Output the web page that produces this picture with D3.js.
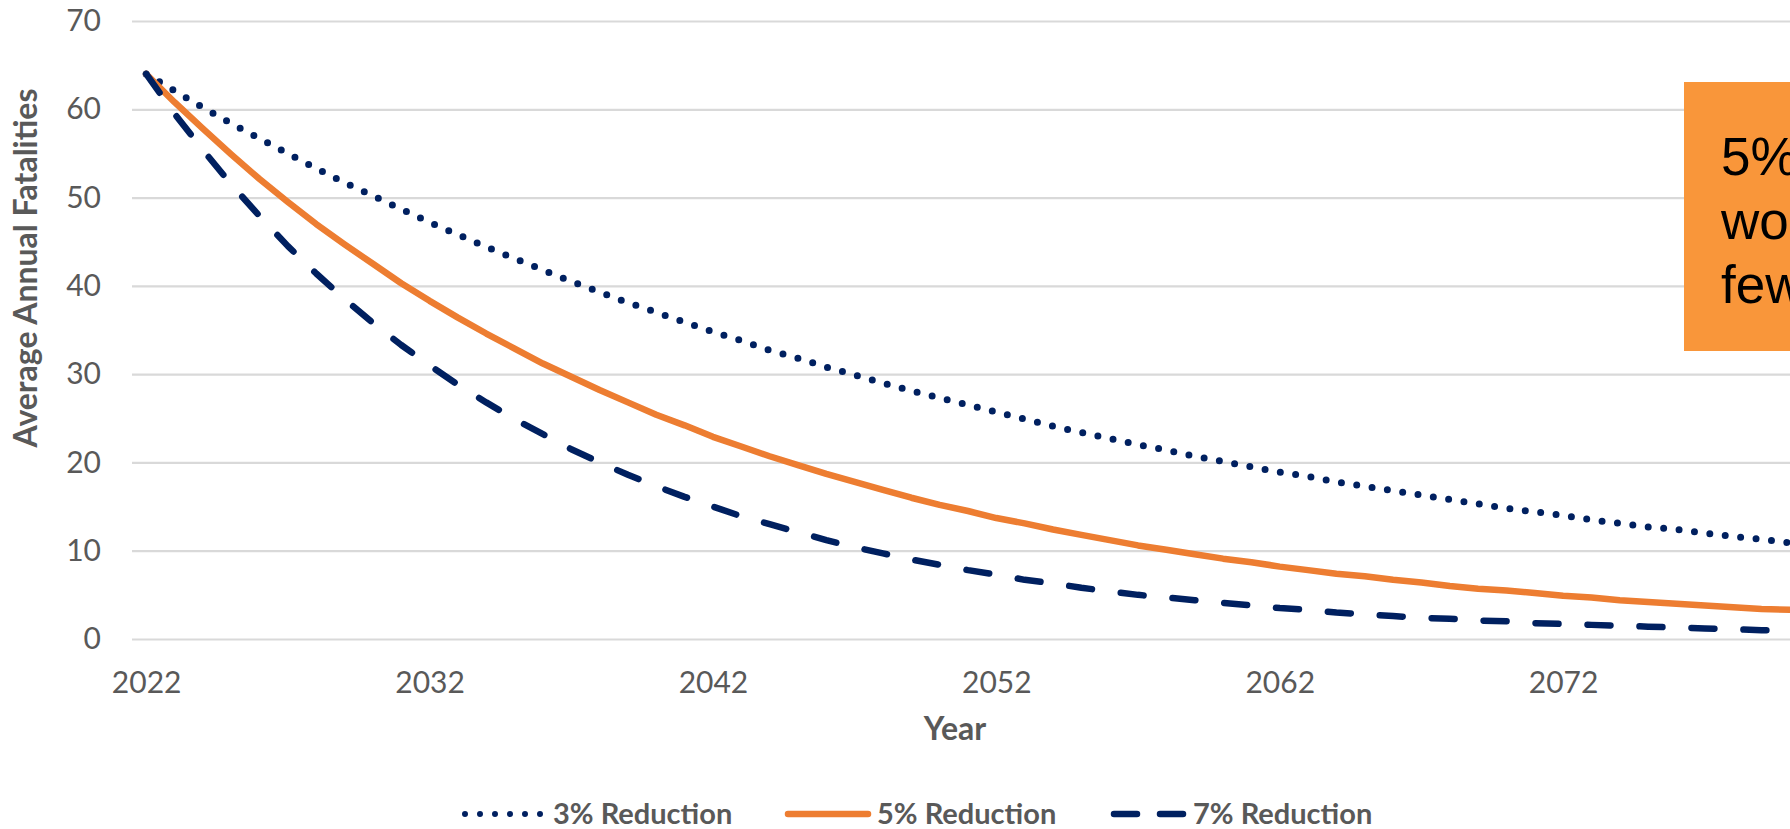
<!DOCTYPE html>
<html>
<head>
<meta charset="utf-8">
<script src="https://cdn.jsdelivr.net/npm/d3@7"></script>
<style>
  html, body { margin: 0; padding: 0; background: #ffffff; overflow: hidden; }
  svg { display: block; }
</style>
</head>
<body>
<svg id="chart" width="1790" height="829"></svg>
<script>
// Projected average annual fatalities, 2022–2080, under three yearly reduction rates
const years = d3.range(2022, 2081);

const reduction3 = [
  64.0, 62.1, 60.2, 58.4, 56.7, 55.0, 53.3, 51.7, 50.2, 48.7,
  47.2, 45.8, 44.4, 43.1, 41.8, 40.5, 39.3, 38.1, 37.0, 35.9,
  34.8, 33.8, 32.7, 31.8, 30.8, 29.9, 29.0, 28.1, 27.3, 26.5,
  25.7, 24.9, 24.1, 23.4, 22.7, 22.0, 21.4, 20.7, 20.1, 19.5,
  18.9, 18.4, 17.8, 17.3, 16.8, 16.3, 15.8, 15.3, 14.8, 14.4,
  14.0, 13.5, 13.1, 12.7, 12.4, 12.0, 11.6, 11.3, 10.9
];

const reduction5 = [
  64.0, 60.8, 57.8, 54.9, 52.1, 49.5, 47.0, 44.7, 42.5, 40.3,
  38.3, 36.4, 34.6, 32.9, 31.2, 29.7, 28.2, 26.8, 25.4, 24.2,
  22.9, 21.8, 20.7, 19.7, 18.7, 17.8, 16.9, 16.0, 15.2, 14.5,
  13.7, 13.1, 12.4, 11.8, 11.2, 10.6, 10.1, 9.6, 9.1, 8.7,
  8.2, 7.8, 7.4, 7.1, 6.7, 6.4, 6.0, 5.7, 5.5, 5.2,
  4.9, 4.7, 4.4, 4.2, 4.0, 3.8, 3.6, 3.4, 3.3
];

const reduction7 = [
  64.0, 59.5, 55.4, 51.5, 47.9, 44.5, 41.4, 38.5, 35.8, 33.3,
  31.0, 28.8, 26.8, 24.9, 23.2, 21.5, 20.0, 18.6, 17.3, 16.1,
  15.0, 13.9, 13.0, 12.1, 11.2, 10.4, 9.7, 9.0, 8.4, 7.8,
  7.3, 6.7, 6.3, 5.8, 5.4, 5.0, 4.7, 4.4, 4.1, 3.8,
  3.5, 3.3, 3.0, 2.8, 2.6, 2.4, 2.3, 2.1, 2.0, 1.8,
  1.7, 1.6, 1.5, 1.4, 1.3, 1.2, 1.1, 1.0, 1.0
];

const yTicks = [0, 10, 20, 30, 40, 50, 60, 70];
const xTickYears = [2022, 2032, 2042, 2052, 2062, 2072];

const seriesNames = ["3% Reduction", "5% Reduction", "7% Reduction"];
const seriesValues = [reduction3, reduction5, reduction7];

const annotationLines = ["5% reduction", "would mean", "fewer deaths"];

// ---- styling ----
const NAVY = "#002060";
const ORANGE = "#ED7D31";
const LABEL = "#595959";
const GRID = "#D9D9D9";
const lineStyles = [
  { color: NAVY,   width: 7,   dash: "0 15.5", legendDash: "0 15",  cap: "round" },
  { color: ORANGE, width: 6.5, dash: null,     legendDash: null,    cap: "round" },
  { color: NAVY,   width: 6.5, dash: "23 29",  legendDash: "23 23", cap: "round" }
];

const plot = { left: 132, right: 1804, top: 21, bottom: 639 };

const svg = d3.select("#chart");

const x = d3.scalePoint()
  .domain(years)
  .range([plot.left, plot.right])
  .padding(0.5);

const y = d3.scaleLinear()
  .domain([0, 70])
  .range([plot.bottom, plot.top]);

// horizontal gridlines + value labels
const yAxis = svg.append("g")
  .attr("transform", `translate(${plot.left},0)`)
  .call(d3.axisLeft(y)
    .tickValues(yTicks)
    .tickSize(-(plot.right - plot.left))
    .tickPadding(31)
    .tickFormat(d3.format("d")));
yAxis.select(".domain").remove();
yAxis.selectAll(".tick line")
  .attr("stroke", GRID)
  .attr("stroke-width", 2.2);
yAxis.selectAll(".tick text")
  .attr("fill", LABEL)
  .style("font-family", "Lato, sans-serif")
  .style("font-size", "30px");

// year labels
const xAxis = svg.append("g")
  .attr("transform", `translate(0,${plot.bottom})`)
  .call(d3.axisBottom(x)
    .tickValues(xTickYears)
    .tickSize(0)
    .tickFormat(d3.format("d")));
xAxis.select(".domain").remove();
xAxis.selectAll(".tick text")
  .attr("y", 54)
  .attr("dy", 0)
  .attr("fill", LABEL)
  .style("font-family", "Lato, sans-serif")
  .style("font-size", "30px");

// axis titles
svg.append("text")
  .attr("x", 955)
  .attr("y", 740)
  .attr("text-anchor", "middle")
  .attr("fill", LABEL)
  .style("font-family", "Lato, sans-serif")
  .style("font-weight", "700")
  .style("font-size", "32px")
  .text("Year");

svg.append("text")
  .attr("transform", "translate(37,268) rotate(-90)")
  .attr("text-anchor", "middle")
  .attr("fill", LABEL)
  .style("font-family", "Lato, sans-serif")
  .style("font-weight", "700")
  .style("font-size", "32px")
  .text("Average Annual Fatalities");

// series lines
const line = d3.line()
  .x((d, i) => x(years[i]))
  .y(d => y(d));

seriesValues.forEach((vals, k) => {
  const st = lineStyles[k];
  svg.append("path")
    .datum(vals)
    .attr("d", line)
    .attr("fill", "none")
    .attr("stroke", st.color)
    .attr("stroke-width", st.width)
    .attr("stroke-linecap", st.cap)
    .attr("stroke-linejoin", "round")
    .attr("stroke-dasharray", st.dash);
});

// annotation box
const note = svg.append("g");
note.append("rect")
  .attr("x", 1684)
  .attr("y", 82)
  .attr("width", 420)
  .attr("height", 269)
  .attr("fill", "#F9963A");
note.selectAll("text")
  .data(annotationLines)
  .join("text")
  .attr("x", 1721)
  .attr("y", (d, i) => 175 + i * 64)
  .attr("fill", "#000000")
  .style("font-family", "'Liberation Sans', Arial, sans-serif")
  .style("font-size", "53px")
  .text(d => d);

// legend
const legendItems = [
  { x: 462, textX: 553 },
  { x: 785, textX: 877 },
  { x: 1111, textX: 1193 }
];
const legendY = 814;
const legend = svg.append("g");
seriesNames.forEach((name, k) => {
  const st = lineStyles[k];
  const item = legendItems[k];
  const sampleLen = k === 2 ? 75 : 86;
  legend.append("line")
    .attr("x1", item.x + 3)
    .attr("x2", item.x + sampleLen - 3)
    .attr("y1", legendY)
    .attr("y2", legendY)
    .attr("stroke", st.color)
    .attr("stroke-width", k === 0 ? 6 : st.width)
    .attr("stroke-linecap", st.cap)
    .attr("stroke-dasharray", st.legendDash);
  legend.append("text")
    .attr("x", item.textX)
    .attr("y", legendY + 10)
    .attr("fill", LABEL)
    .style("font-family", "Lato, sans-serif")
    .style("font-weight", "700")
    .style("font-size", "29px")
    .text(name);
});
</script>
</body>
</html>
